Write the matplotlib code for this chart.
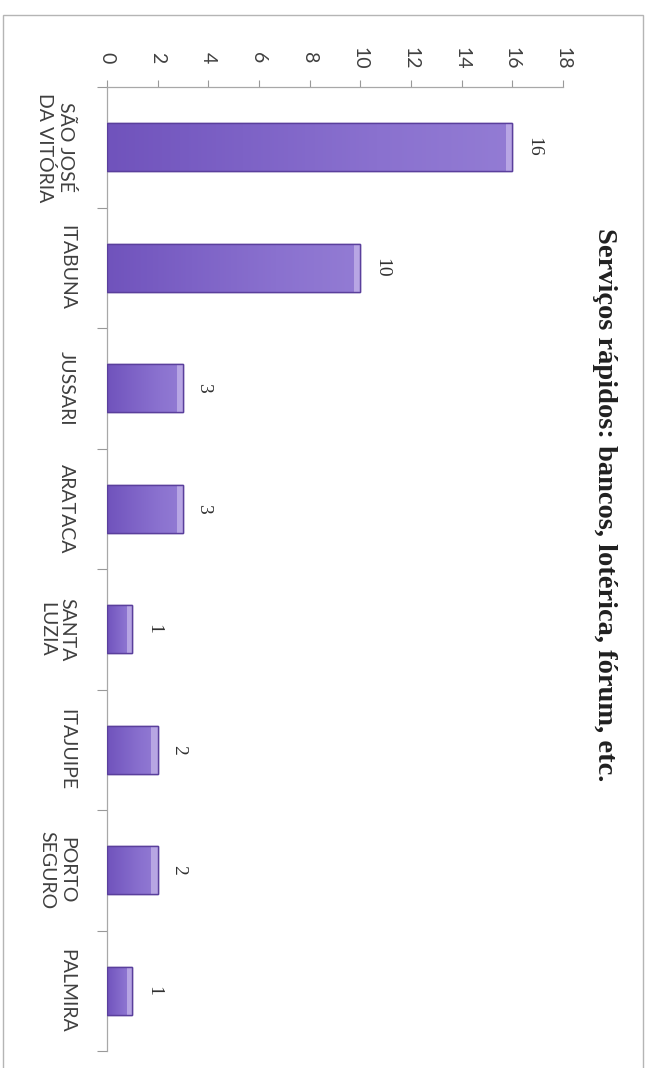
import matplotlib
matplotlib.use("Agg")
import matplotlib.pyplot as plt
import numpy as np
from matplotlib.patches import Rectangle
from matplotlib.colors import LinearSegmentedColormap

categories = ["SÃO JOSÉ\nDA VITÓRIA", "ITABUNA", "JUSSARI", "ARATACA",
              "SANTA\nLUZIA", "ITAJUIPE", "PORTO\nSEGURO", "PALMIRA"]
values = [16, 10, 3, 3, 1, 2, 2, 1]
value_ticks = [0, 2, 4, 6, 8, 10, 12, 14, 16, 18]
title = "Serviços rápidos: bancos, lotérica, fórum, etc."

W, H = 648, 1068
fig = plt.figure(figsize=(W / 100, H / 100), dpi=100)
fig.patch.set_facecolor("white")

# outer border
fig.add_artist(Rectangle((3 / W, -0.05), (643 - 3) / W, 1.05 - 15 / H,
                         transform=fig.transFigure, fill=False,
                         edgecolor="#b5b5b5", lw=1.0))

ax = fig.add_axes([107 / W, 1 - 1051 / H, (563 - 107) / W, (1051 - 87) / H])
n = len(categories)
y = np.arange(n)
bars = ax.barh(y, values, height=0.4, color="#8266c9",
               edgecolor="#5a3f9c", linewidth=1.0, zorder=3)

cmap = LinearSegmentedColormap.from_list(
    "bar", ["#7053bc", "#7d62c6", "#8a71cf", "#937cd4"])
for b in bars:
    x0, y0 = b.get_x(), b.get_y()
    w, h = b.get_width(), b.get_height()
    grad = np.linspace(0, 1, 256).reshape(1, -1)
    im = ax.imshow(grad, cmap=cmap, aspect="auto",
                   extent=[x0, x0 + w, y0 + h, y0], zorder=3.5)
    im.set_clip_path(b)
    # light bevel at bar end
    bev = min(0.25, w * 0.2)
    ax.add_patch(Rectangle((x0 + w - bev, y0), bev, h,
                           facecolor="#d2c4f0", edgecolor="none",
                           alpha=0.6, zorder=3.6, clip_path=b))
    ax.add_patch(Rectangle((x0, y0), w, h, facecolor="none",
                           edgecolor="#5a3f9c", lw=1.0, zorder=3.7))

ax.set_xlim(0, 18)
ax.set_ylim(n - 0.5, -0.5)

# value axis at the top
ax.xaxis.set_ticks_position("top")
ax.set_xticks(value_ticks)
ax.set_xticklabels([str(v) for v in value_ticks], rotation=-90,
                   fontfamily="Lato", fontsize=14, color="#404040",
                   va="center", ha="center")
ax.tick_params(axis="x", which="major", direction="out", length=5,
               width=0.8, color="#999999", pad=16)

# category axis on the left
ax.set_yticks(y)
ax.set_yticklabels(categories, rotation=-90, fontfamily="Lato",
                   fontsize=14, color="#404040", ha="right", va="center",
                   multialignment="center")
ax.tick_params(axis="y", which="major", length=0, pad=23)
ax.set_yticks(np.arange(-0.5, n, 1.0), minor=True)
ax.tick_params(axis="y", which="minor", direction="out", length=7,
               width=0.8, color="#999999")

for s in ["right", "bottom"]:
    ax.spines[s].set_visible(False)
for s in ["top", "left"]:
    ax.spines[s].set_color("#a8a8a8")
    ax.spines[s].set_linewidth(0.9)

# data labels
for yi, v in zip(y, values):
    ax.annotate(str(v), xy=(v, yi), xytext=(9, 0),
                textcoords="offset points", rotation=-90,
                ha="left", va="center", fontfamily="Liberation Serif",
                fontsize=14, color="#303030")

fig.text(605 / W, 1 - 505 / H, title, rotation=-90, ha="center",
         va="center", fontfamily="Liberation Serif", fontweight="bold",
         fontsize=20.5, color="#202020")

fig.savefig("out.png", dpi=100)
